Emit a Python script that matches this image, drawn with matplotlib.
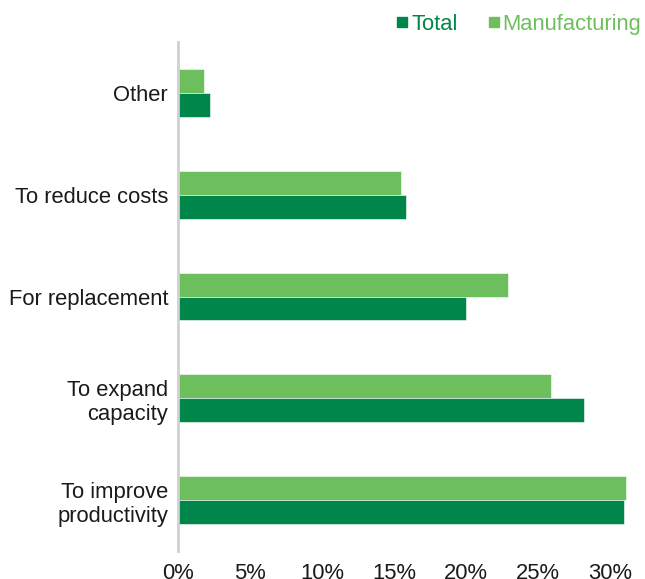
import matplotlib.pyplot as plt
from matplotlib.lines import Line2D
import numpy as np

plt.rcParams['font.family'] = ['Liberation Sans', 'DejaVu Sans']

# Data (percent of firms), categories listed top to bottom
categories = ["Other", "To reduce costs", "For replacement",
              "To expand\ncapacity", "To improve\nproductivity"]
total = [2.2, 15.8, 20.0, 28.2, 31.0]
manufacturing = [1.8, 15.5, 22.9, 25.9, 31.1]
xticks = [0, 5, 10, 15, 20, 25, 30]

dark_green = "#00854A"
light_green = "#6DBF5E"

fig = plt.figure(figsize=(6.45, 5.79), dpi=100)
ax = fig.add_axes([0.2767, 0.0484, 0.7233, 0.879])

y = np.arange(len(categories))
h = 0.235
ax.barh(y - h / 2, manufacturing, height=h, color=light_green,
        edgecolor="white", linewidth=0.4)
ax.barh(y + h / 2, total, height=h, color=dark_green,
        edgecolor="white", linewidth=0.4)

ax.set_ylim(len(categories) - 0.5, -0.5)
ax.set_xlim(0, 32.44)
ax.set_yticks(y)
ax.set_yticklabels(categories, fontsize=15.8, color="#1a1a1a")
ax.set_xticks(xticks)
ax.set_xticklabels([f"{t}%" for t in xticks], fontsize=15.8, color="#1a1a1a")
ax.tick_params(axis="both", length=0)
ax.tick_params(axis="y", pad=7.5)
ax.tick_params(axis="x", pad=9)

for s in ["top", "right", "bottom"]:
    ax.spines[s].set_visible(False)
ax.spines["left"].set_color("#D0D0D0")
ax.spines["left"].set_linewidth(2)

handles = [
    Line2D([], [], marker="s", linestyle="none", color=dark_green, markersize=7.5),
    Line2D([], [], marker="s", linestyle="none", color=light_green, markersize=7.5),
]
fig.legend(handles, ["Total", "Manufacturing"], ncol=2, frameon=False,
           loc="upper right", bbox_to_anchor=(1.025, 1.01),
           fontsize=15.8, handlelength=0.5, handletextpad=0.15,
           columnspacing=1.4, labelcolor=[dark_green, light_green])

fig.savefig("out.png", dpi=100)
